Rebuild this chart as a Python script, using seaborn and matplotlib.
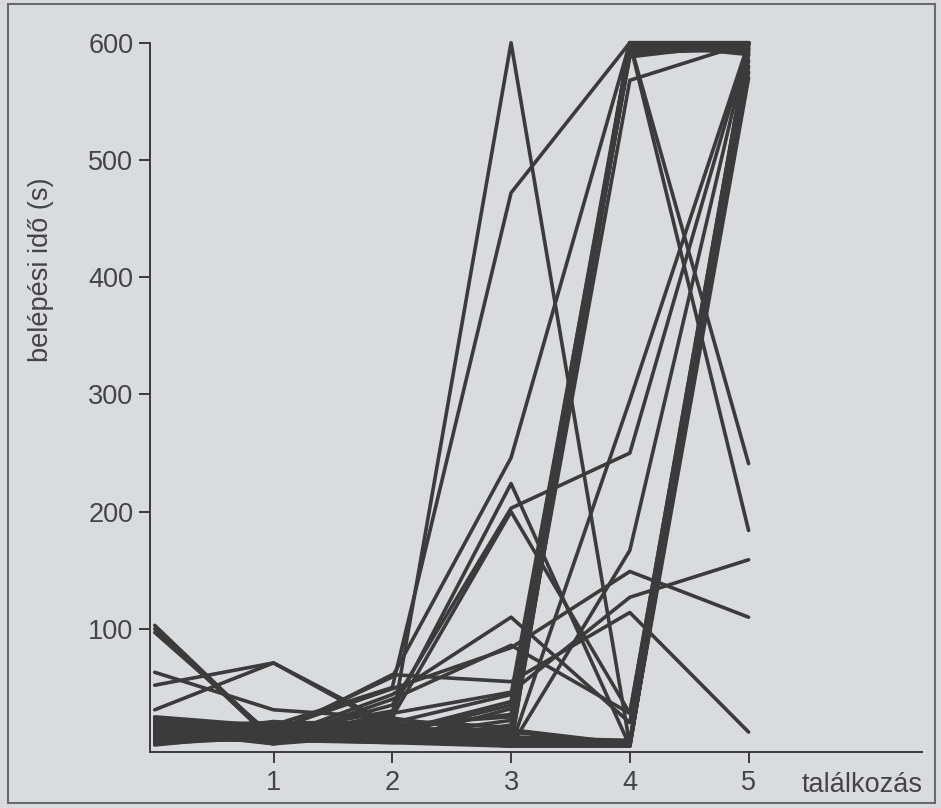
import pandas as pd
import matplotlib
matplotlib.use("Agg")
import matplotlib.pyplot as plt
import seaborn as sns
from matplotlib.patches import Rectangle

# x axis: meetings
talalkozas = [0, 1, 2, 3, 4, 5]

# subjects at (about) 600 s from the 4th meeting on
tartos_600 = [
    [4, 6, 3, 0, 600, 600],
    [8, 5, 9, 3, 598, 600],
    [12, 10, 6, 6, 596, 598],
    [16, 12, 14, 10, 600, 596],
    [20, 8, 11, 14, 594, 600],
    [6, 15, 4, 18, 592, 594],
    [10, 18, 8, 22, 600, 592],
    [14, 3, 16, 27, 597, 600],
    [22, 14, 5, 32, 590, 597],
    [3, 9, 12, 38, 600, 590],
    [18, 20, 20, 44, 595, 600],
    [9, 4, 7, 2, 593, 595],
    [25, 17, 13, 8, 600, 599],
    [1, 11, 22, 16, 591, 600],
    [17, 2, 18, 25, 599, 593],
    [13, 19, 10, 35, 588, 600],
]

# subjects reaching 600 s only at the 5th meeting
ot_600 = [
    [5, 7, 4, 2, 1, 600],
    [11, 13, 9, 4, 2, 590],
    [15, 6, 12, 1, 3, 580],
    [7, 10, 18, 6, 0, 600],
    [19, 16, 6, 3, 2, 570],
    [13, 2, 10, 5, 1, 595],
    [24, 12, 15, 8, 4, 585],
    [2, 8, 20, 0, 0, 598],
    [21, 5, 3, 7, 5, 575],
    [9, 21, 14, 2, 3, 600],
]

# individually visible lines
egyedi = [
    [12, 6, 20, 600, 1, 600],
    [16, 18, 50, 472, 600, 600],
    [103, 6, 10, 8, 600, 600],
    [100, 4, 12, 5, 600, 600],
    [97, 8, 6, 12, 2, 600],
    [63, 31, 24, 10, 600, 600],
    [52, 71, 18, 6, 600, 600],
    [31, 71, 15, 14, 2, 600],
    [24, 10, 61, 55, 114, 12],
    [18, 12, 59, 246, 600, 600],
    [15, 8, 35, 203, 250, 600],
    [10, 14, 49, 84, 149, 110],
    [8, 12, 30, 224, 0, 600],
    [20, 6, 28, 46, 127, 159],
    [12, 10, 25, 200, 28, 600],
    [6, 5, 40, 86, 28, 600],
    [14, 9, 12, 0, 295, 600],
    [9, 11, 8, 0, 167, 600],
    [7, 9, 12, 10, 568, 600],
    [10, 6, 8, 5, 600, 241],
    [5, 12, 10, 12, 600, 184],
    [11, 7, 44, 110, 20, 600],
]


def main():
    rows = []
    for i, vals in enumerate(tartos_600 + ot_600 + egyedi):
        for x, v in zip(talalkozas, vals):
            rows.append({"id": i, "talalkozas": x, "ido": v})
    df = pd.DataFrame(rows)

    sns.set_style("ticks")
    plt.rcParams["font.family"] = ["Liberation Sans", "DejaVu Sans"]

    paper = "#d9dbdf"
    ink = "#3b3b3b"

    fig = plt.figure(figsize=(9.41, 8.08), dpi=100, facecolor=paper)
    ax = fig.add_axes([0.1594, 0.0693, 0.8204, 0.885])
    ax.set_facecolor(paper)

    sns.lineplot(data=df, x="talalkozas", y="ido", units="id", estimator=None,
                 color=ink, linewidth=2.6, ax=ax, legend=False)

    ax.set_xlim(-0.04, 6.46)
    ax.set_ylim(-5, 605)
    ax.set_xticks([1, 2, 3, 4, 5])
    ax.set_yticks([100, 200, 300, 400, 500, 600])
    ax.set_xlabel("")
    ax.set_ylabel("")
    ax.tick_params(axis="both", length=8, width=1.4, colors=ink,
                   labelsize=19.5, labelcolor="#444444")
    ax.tick_params(axis="x", pad=5)
    ax.tick_params(axis="y", pad=4)
    for s in ["top", "right"]:
        ax.spines[s].set_visible(False)
    for s in ["left", "bottom"]:
        ax.spines[s].set_color(ink)
        ax.spines[s].set_linewidth(1.4)
    ax.spines["left"].set_bounds(-5, 600)

    fig.text(41 / 941, 1 - 270 / 808, "belépési idő (s)", rotation=90,
             ha="center", va="center", fontsize=19.5, color="#444444")
    fig.text(802 / 941, 1 - 785 / 808, "találkozás", ha="left", va="center",
             fontsize=19.5, color="#444444")

    fig.patches.append(Rectangle((0.009, 0.006), 0.985, 0.989,
                                 transform=fig.transFigure, fill=False,
                                 edgecolor="#6a6a6a", linewidth=1.5))

    fig.savefig("out.png", dpi=100, facecolor=paper)


if __name__ == "__main__":
    main()
